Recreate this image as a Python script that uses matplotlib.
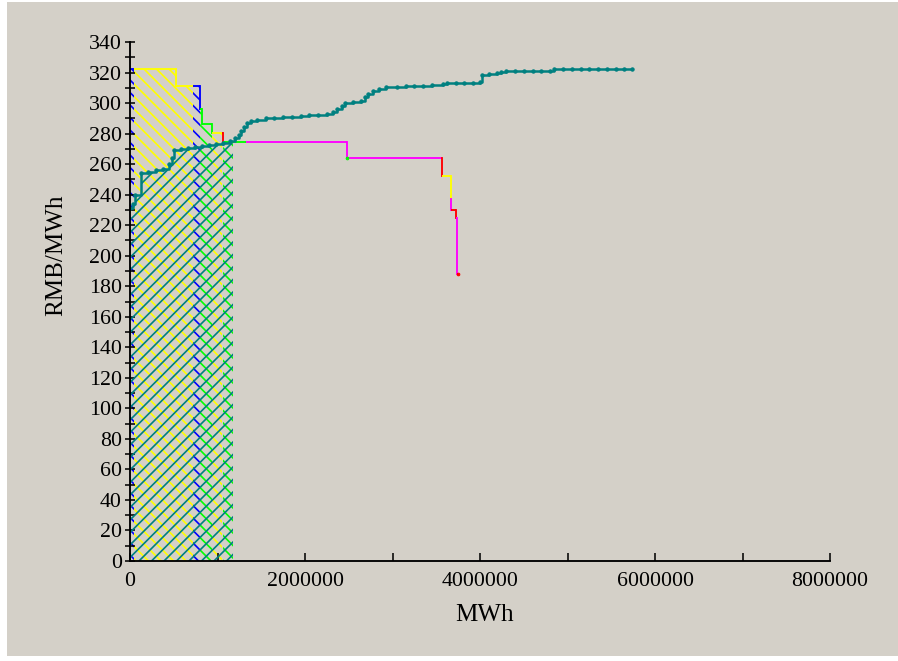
"""
Bid curves with cleared area: supply (teal) vs demand (coloured by bidder).
"""

import numpy as np
import matplotlib
matplotlib.use("Agg")
import matplotlib.pyplot as plt
from matplotlib import ticker
from matplotlib.patches import Rectangle

# supply curve, step vertices (cumulative MWh, RMB/MWh)
supply_q = [0, 30000, 60000, 120000, 200000, 300000, 380000, 440000, 480000, 500000,
            580000, 660000, 740000, 820000, 900000, 980000, 1060000, 1140000, 1200000,
            1240000, 1270000, 1300000, 1340000, 1380000, 1450000, 1550000, 1650000,
            1750000, 1850000, 1950000, 2050000, 2150000, 2250000, 2320000, 2360000,
            2420000, 2460000, 2550000, 2640000, 2680000, 2720000, 2780000, 2850000,
            2930000, 3050000, 3150000, 3250000, 3350000, 3450000, 3580000, 3620000,
            3720000, 3820000, 3920000, 4000000, 4020000, 4100000, 4190000, 4240000,
            4300000, 4400000, 4500000, 4600000, 4700000, 4800000, 4840000, 4950000,
            5050000, 5150000, 5250000, 5350000, 5450000, 5550000, 5650000, 5740000]
supply_p = [231, 234, 240, 254, 255, 256, 257, 260, 264, 269,
            270, 270.5, 271, 272, 272.5, 273, 274, 275, 277,
            279, 282, 284, 287, 288.5, 289, 290, 290.5,
            290.8, 291, 291.2, 292, 292.3, 292.6, 294, 296,
            298, 300, 300.5, 301.5, 304, 306, 308, 309.5,
            310.5, 310.7, 311, 311, 311.5, 312, 312.3, 313,
            313, 313.2, 313.3, 313.5, 318.5, 319, 319.5, 320.5,
            321, 321, 321, 321, 321, 321.2, 322.4, 322.4,
            322.4, 322.4, 322.4, 322.2, 322.2, 322.2, 322.2, 322.2]

# demand bids in merit order: quantity (MWh), price, bidder colour
demand_q = [45000, 485000, 190000, 80000, 20000, 120000, 110000, 15000, 265000,
            1150000, 5000, 1075000, 5000, 100000, 5000, 56000, 15000, 3000]
demand_p = [322, 322, 311, 311, 296, 286, 280.5, 280.5, 274.5,
            274.5, 264, 264, 264, 252, 237, 230, 225, 188]
demand_c = ["#0000FF", "#FFFF00", "#FFFF00", "#0000FF", "#00FF00", "#00FF00", "#FFFF00",
            "#FF0000", "#00FF00", "#FF00FF", "#00FF00", "#FF00FF", "#FF0000", "#FFFF00",
            "#FF00FF", "#FF0000", "#FF00FF", "#FF0000"]

clear_q = 1180000  # cleared quantity

yticks = list(range(0, 341, 20))
xticks = [0, 2000000, 4000000, 6000000, 8000000]

BG = "#D4D0C8"
TEAL = "#008080"

plt.rcParams["font.family"] = ["Liberation Serif", "DejaVu Serif"]
plt.rcParams["hatch.linewidth"] = 1.6

W, H, DPI = 898, 661, 75
fig = plt.figure(figsize=(W / DPI, H / DPI), dpi=DPI, facecolor="white")
fig.add_artist(Rectangle((7 / W, 5 / H), (W - 7) / W, (H - 7) / H,
                         transform=fig.transFigure, facecolor=BG, edgecolor="none", zorder=-10))
ax = fig.add_axes([130 / W, (H - 561) / H, 700 / W, (561 - 42) / H])
ax.set_facecolor("none")

# hatched areas under demand bids, up to the cleared quantity (tiny bids not shaded)
starts = np.concatenate([[0], np.cumsum(demand_q)[:-1]])
ends = np.cumsum(demand_q)
for s, e, p, c in zip(starts, ends, demand_p, demand_c):
    if s >= clear_q:
        break
    if e - s < 20000:
        continue
    e = min(e, clear_q)
    ax.fill_between([s, e], 0, p, facecolor="none", edgecolor=c, hatch="\\\\", linewidth=0, zorder=1)

# hatched area under supply curve
sq = np.array(supply_q, dtype=float)
sp = np.array(supply_p, dtype=float)
keep = sq < clear_q
fq = np.append(sq[keep], clear_q)
fp = np.append(sp[keep], sp[keep][-1])
ax.fill_between(fq, 0, fp, step="post", facecolor="none", edgecolor=TEAL,
                hatch="//", linewidth=0, zorder=2)

# demand curve, one colour per bidder
for i, (s, e, p, c) in enumerate(zip(starts, ends, demand_p, demand_c)):
    ax.plot([s, e], [p, p], color=c, lw=1.8, zorder=3, solid_capstyle="butt")
    if i + 1 < len(demand_p):
        ax.plot([e, e], [p, demand_p[i + 1]], color=c, lw=1.8, zorder=3)
ax.plot([ends[-1]], [demand_p[-1]], "o", color="#FF0000", ms=2.5, zorder=4)
ax.plot([starts[10]], [demand_p[10]], "o", color="#00FF00", ms=2.5, zorder=4)

# supply curve
ax.plot(supply_q, supply_p, drawstyle="steps-post", color=TEAL, lw=2.4, zorder=5)
ax.plot(supply_q, supply_p, "o", color=TEAL, ms=3.2, zorder=5)

ax.set_xlim(0, 8000000)
ax.set_ylim(0, 340)
ax.set_xticks(xticks)
ax.xaxis.set_minor_locator(ticker.MultipleLocator(1000000))
ax.set_yticks(yticks)
ax.yaxis.set_minor_locator(ticker.MultipleLocator(10))
ax.xaxis.set_major_formatter(ticker.FormatStrFormatter("%d"))
ax.yaxis.set_major_formatter(ticker.FormatStrFormatter("%d"))

for side in ("top", "right"):
    ax.spines[side].set_visible(False)
for side in ("left", "bottom"):
    ax.spines[side].set_linewidth(1.8)
    ax.spines[side].set_zorder(6)

ax.tick_params(axis="y", which="both", direction="inout", length=10, width=1.5,
               labelsize=21, pad=3)
ax.tick_params(axis="x", which="both", direction="in", length=8, width=1.5,
               labelsize=21, pad=11)

ax.set_xlabel("MWh", fontsize=24)
ax.set_ylabel("RMB/MWh", fontsize=24)
ax.xaxis.set_label_coords(0.507, -0.083)
ax.yaxis.set_label_coords(-0.089, 0.59)

fig.savefig("out.png", dpi=DPI, facecolor=fig.get_facecolor())
